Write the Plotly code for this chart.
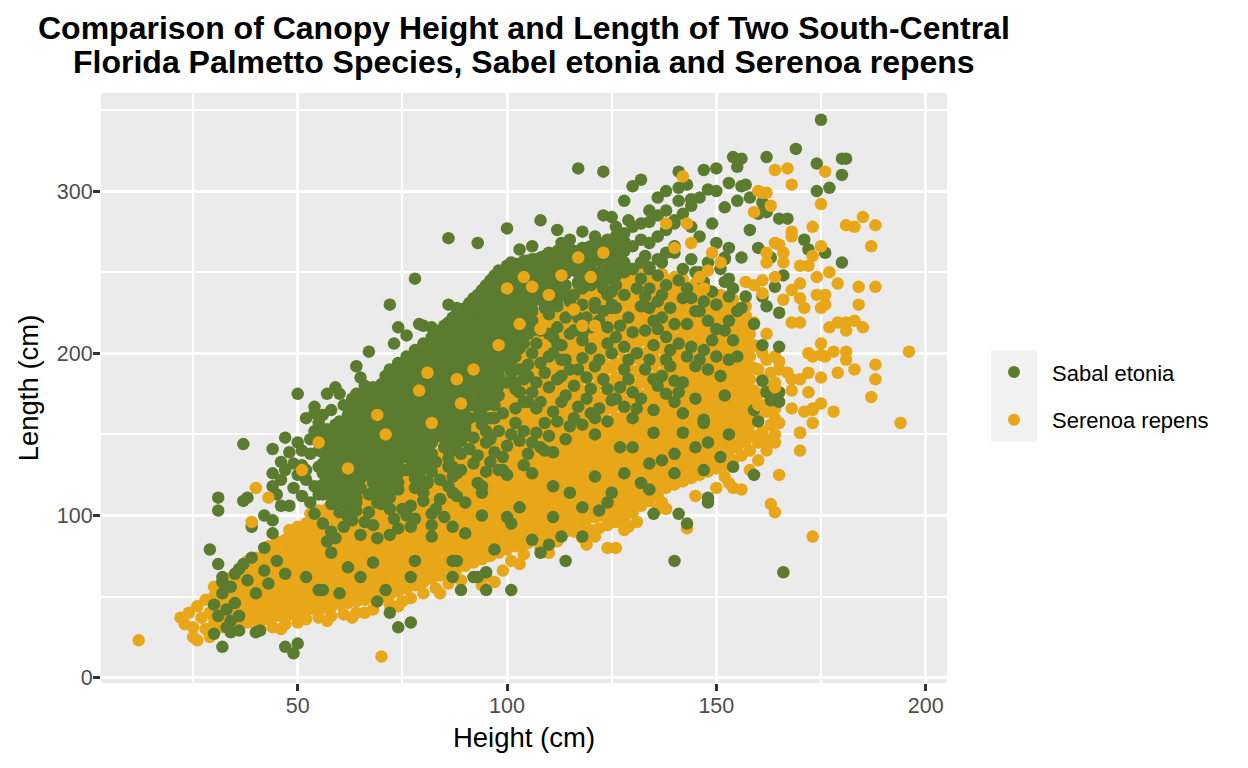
import plotly.graph_objects as go

# %% colours
GREEN = "#5B7B2E"
ORANGE = "#E8A718"

# %% data (height cm, length cm)
# Serenoa repens: lower left tail and lower edge of the cloud
serenoa_edge = [
    (12, 23), (23, 33), (24, 40), (26, 44), (28, 48), (25, 25), (26, 23),
    (29, 25), (27, 37), (29, 40), (30, 33), (22, 37), (25, 31), (28, 30),
    (41, 30), (44, 31), (47, 33), (50, 34), (52, 36), (55, 37), (58, 38),
    (61, 39), (64, 40), (66, 40), (68, 42), (70, 13), (72, 45), (75, 47),
    (77, 49), (80, 52), (83, 55), (86, 58), (89, 60), (92, 62), (95, 63),
    (97, 59), (99, 66), (101, 72), (104, 76), (105, 83), (108, 80),
    (112, 84), (115, 91), (118, 86), (121, 87), (124, 80), (126, 80),
    (128, 91), (131, 96), (134, 109), (137, 108), (143, 92), (138, 104),
    (152, 124), (153, 120), (154, 117), (156, 116), (163, 107), (164, 102),
    (173, 87), (165, 125), (170, 140), (170, 151),
    (46, 30), (57, 35), (63, 37), (74, 44), (84, 52), (94, 57), (103, 70),
    (110, 77), (119, 82), (129, 93), (136, 104), (145, 112), (150, 117),
    (158, 128), (160, 134), (162, 140),
]

# Serenoa repens: main band, one column per height value
serenoa_band = [
    (30, [31, 44, 56]), (31, [36, 50]), (32, [31, 43, 57]), (33, [37, 49, 61]),
    (34, [32, 45, 58]), (35, [38, 51, 64]), (36, [33, 46, 59]),
    (37, [39, 52, 66]), (38, [34, 47, 60, 72]), (39, [40, 53, 67]),
    (40, [35, 48, 61, 74]), (41, [41, 54, 68]), (42, [36, 49, 62, 76]),
    (43, [42, 55, 69, 81]), (44, [37, 50, 63, 77]), (45, [43, 56, 70, 84]),
    (46, [38, 51, 64, 78]), (47, [44, 57, 71, 85]), (48, [39, 52, 65, 79, 91]),
    (49, [45, 58, 72, 86]), (50, [40, 53, 66, 80, 93]), (51, [46, 59, 73, 87]),
    (52, [41, 54, 67, 81, 95]), (53, [47, 60, 74, 88, 101]),
    (54, [42, 55, 68, 82, 96]), (55, [48, 61, 75, 89, 103]),
    (56, [43, 56, 69, 83, 97]), (57, [49, 62, 76, 90, 104]),
    (58, [44, 57, 70, 84, 98, 111]), (59, [50, 63, 77, 91, 105]),
    (60, [45, 58, 71, 85, 99, 113]), (61, [51, 64, 78, 92, 106]),
    (62, [46, 59, 72, 86, 100, 115]), (63, [52, 65, 79, 93, 107]),
    (64, [47, 60, 73, 87, 101, 116]), (65, [53, 66, 80, 94, 108, 120]),
    (66, [48, 61, 74, 88, 102, 117]), (67, [54, 67, 81, 95, 109, 122]),
    (68, [49, 62, 75, 89, 103, 118]), (69, [55, 68, 82, 96, 110, 124]),
    (70, [50, 63, 76, 90, 104, 119]), (71, [56, 69, 83, 97, 111, 125]),
    (72, [51, 64, 77, 91, 105, 120, 131]), (73, [57, 70, 84, 98, 112, 126]),
    (74, [53, 66, 79, 93, 107, 121, 134]), (75, [59, 72, 86, 100, 114, 128]),
    (76, [55, 68, 81, 95, 109, 123, 137]), (77, [61, 74, 88, 102, 116, 130]),
    (78, [57, 70, 83, 97, 111, 125, 139]), (79, [63, 76, 90, 104, 118, 132]),
    (80, [59, 72, 85, 99, 113, 127, 141]), (81, [65, 78, 92, 106, 120, 134]),
    (82, [61, 74, 87, 101, 115, 129, 144]), (83, [67, 80, 94, 108, 122, 136]),
    (84, [63, 76, 89, 103, 117, 131, 146]),
    (85, [69, 82, 96, 110, 124, 138, 151]),
    (86, [65, 78, 91, 105, 119, 133, 148]),
    (87, [71, 84, 98, 112, 126, 140, 154]),
    (88, [67, 80, 93, 107, 121, 135, 150]),
    (89, [73, 86, 100, 114, 128, 142, 156]),
    (90, [69, 82, 95, 109, 123, 137, 152]),
    (91, [75, 88, 102, 116, 130, 144, 158]),
    (92, [71, 84, 97, 111, 125, 139, 154, 166]),
    (93, [77, 90, 104, 118, 132, 146, 160]),
    (94, [73, 86, 99, 113, 127, 141, 156, 169]),
    (95, [79, 92, 106, 120, 134, 148, 162]),
    (96, [75, 88, 101, 115, 129, 143, 158, 172]),
    (97, [81, 94, 108, 122, 136, 150, 164]),
    (98, [77, 90, 103, 117, 131, 145, 160, 175]),
    (99, [83, 96, 110, 124, 138, 152, 166, 180]),
    (100, [79, 92, 105, 119, 133, 147, 162, 177, 192]),
    (101, [85, 98, 112, 126, 140, 154, 168, 181, 196]),
    (102, [81, 94, 107, 121, 135, 149, 164, 179, 194]),
    (103, [87, 100, 114, 128, 142, 156, 170, 184, 200]),
    (104, [83, 96, 109, 123, 137, 151, 166, 181, 195, 206]),
    (105, [89, 102, 116, 130, 144, 158, 172, 187, 201]),
    (106, [85, 98, 111, 125, 139, 153, 168, 183, 198, 212]),
    (107, [91, 104, 118, 132, 146, 160, 174, 190, 205]),
    (108, [87, 100, 113, 127, 141, 155, 170, 185, 197, 210, 222]),
    (109, [93, 106, 120, 134, 148, 162, 176, 192, 206, 218]),
    (110, [88, 101, 115, 129, 143, 157, 172, 187, 200, 213, 226]),
    (111, [94, 107, 121, 135, 149, 163, 178, 194, 207, 220]),
    (112, [89, 102, 116, 130, 144, 158, 173, 189, 204, 217, 230]),
    (113, [95, 108, 122, 136, 150, 164, 180, 196, 210, 224]),
    (114, [90, 103, 117, 131, 145, 159, 175, 191, 207, 220, 234]),
    (115, [96, 109, 123, 137, 151, 165, 181, 198, 213, 227]),
    (116, [90, 104, 118, 132, 146, 160, 176, 193, 210, 223, 237]),
    (117, [97, 110, 124, 138, 152, 167, 183, 200, 216, 230]),
    (118, [91, 105, 119, 133, 147, 161, 177, 195, 212, 226, 239]),
    (119, [98, 111, 125, 139, 153, 168, 185, 202, 219, 233]),
    (120, [91, 106, 120, 134, 148, 163, 179, 197, 214, 228, 241]),
    (121, [99, 112, 126, 140, 155, 170, 187, 204, 221, 236]),
    (122, [92, 107, 121, 135, 149, 164, 181, 199, 216, 230, 243]),
    (123, [100, 113, 127, 141, 156, 172, 189, 206, 223, 238]),
    (124, [94, 108, 122, 136, 150, 166, 183, 201, 218, 232, 245]),
    (125, [101, 115, 129, 143, 158, 174, 191, 208, 225, 240]),
    (126, [96, 110, 124, 138, 152, 168, 185, 203, 220, 234, 247]),
    (127, [103, 117, 131, 145, 160, 176, 193, 210, 227, 242]),
    (128, [98, 112, 126, 140, 154, 170, 187, 205, 222, 236, 249]),
    (129, [105, 119, 133, 147, 162, 178, 195, 212, 229, 244]),
    (130, [102, 115, 128, 142, 156, 172, 189, 207, 224, 238, 250]),
    (131, [108, 121, 135, 149, 164, 180, 197, 214, 231, 245]),
    (132, [106, 118, 131, 145, 159, 174, 191, 209, 226, 240, 251]),
    (133, [112, 124, 138, 152, 166, 182, 199, 216, 233, 246]),
    (134, [109, 121, 134, 148, 162, 177, 193, 211, 228, 242, 251]),
    (135, [115, 127, 141, 155, 169, 184, 201, 218, 235, 247]),
    (136, [113, 125, 137, 151, 165, 179, 195, 213, 230, 244]),
    (137, [119, 131, 144, 158, 172, 187, 203, 220, 236, 249]),
    (138, [117, 129, 140, 154, 168, 182, 198, 215, 231, 245]),
    (139, [122, 134, 147, 161, 175, 190, 206, 222, 238]),
    (140, [119, 131, 143, 157, 171, 185, 200, 217, 233, 247]),
    (141, [124, 136, 150, 164, 178, 193, 209, 225, 240]),
    (142, [121, 133, 146, 160, 174, 188, 203, 219, 234, 246]),
    (143, [126, 139, 153, 167, 181, 196, 212, 227, 241]),
    (144, [123, 136, 149, 163, 177, 191, 206, 221, 235]),
    (145, [128, 142, 156, 170, 184, 199, 215, 229, 243]),
    (146, [125, 139, 152, 166, 180, 194, 209, 224, 238]),
    (147, [131, 145, 159, 173, 187, 202, 218, 232]),
    (148, [127, 142, 155, 169, 183, 197, 212, 226, 239]),
    (149, [134, 148, 162, 176, 190, 205, 220, 233]),
    (150, [129, 145, 158, 172, 186, 200, 214, 228]),
    (151, [137, 151, 165, 179, 193, 208, 222, 236]),
    (152, [131, 147, 161, 175, 189, 203, 217, 230]),
    (153, [140, 154, 168, 182, 196, 211, 225]),
    (154, [134, 150, 164, 178, 192, 206, 220, 233]),
    (155, [143, 157, 171, 185, 199, 213, 226]),
    (156, [137, 153, 167, 181, 195, 209, 222]),
    (157, [146, 160, 174, 188, 202, 216, 229]),
    (158, [140, 156, 170, 184, 198, 212]),
    (159, [149, 163, 177, 191, 205, 219]),
    (160, [145, 160, 175, 190, 204]),
    (161, [152, 168, 184, 200]),
    (162, [147, 164, 180, 196, 212]),
    (163, [156, 172, 188]),
    (164, [150, 166, 182, 198]),
]

# Serenoa repens: more points packed between those of the main band
serenoa_band_fill = [
    (30, [37, 50]), (31, [43]), (32, [37, 50]), (33, [43, 55]), (34, [38, 52]),
    (35, [44, 57]), (36, [39, 53]), (37, [45, 59]), (38, [40, 54, 66]),
    (39, [46, 60]), (40, [41, 55, 68]), (41, [47, 61]), (42, [42, 56, 69]),
    (43, [48, 62, 75]), (44, [43, 57, 70]), (45, [49, 63, 77]),
    (46, [44, 58, 71]), (47, [50, 64, 78]), (48, [45, 59, 72, 85]),
    (49, [51, 65, 79]), (50, [46, 60, 73, 87]), (51, [52, 66, 80]),
    (52, [47, 61, 74, 88]), (53, [53, 67, 81, 94]), (54, [48, 62, 75, 89]),
    (55, [54, 68, 82, 96]), (56, [49, 63, 76, 90]), (57, [55, 69, 83, 97]),
    (58, [50, 64, 77, 91, 105]), (59, [56, 70, 84, 98]),
    (60, [51, 65, 78, 92, 106]), (61, [57, 71, 85, 99]),
    (62, [52, 66, 79, 93, 107]), (63, [58, 72, 86, 100]),
    (64, [53, 67, 80, 94, 108]), (65, [59, 73, 87, 101, 114]),
    (66, [54, 68, 81, 95, 109]), (67, [60, 74, 88, 102, 115]),
    (68, [55, 69, 82, 96, 110]), (69, [61, 75, 89, 103, 117]),
    (70, [56, 70, 83, 97, 111]), (71, [62, 76, 90, 104, 118]),
    (72, [57, 71, 84, 98, 112, 125]), (73, [63, 77, 91, 105, 119]),
    (74, [59, 73, 86, 100, 114, 127]), (75, [65, 79, 93, 107, 121]),
    (76, [61, 75, 88, 102, 116, 130]), (77, [67, 81, 95, 109, 123]),
    (78, [63, 77, 90, 104, 118, 132]), (79, [69, 83, 97, 111, 125]),
    (80, [65, 79, 92, 106, 120, 134]), (81, [71, 85, 99, 113, 127]),
    (82, [67, 81, 94, 108, 122, 136]), (83, [73, 87, 101, 115, 129]),
    (84, [69, 83, 96, 110, 124, 138]), (85, [75, 89, 103, 117, 131, 144]),
    (86, [71, 85, 98, 112, 126, 140]), (87, [77, 91, 105, 119, 133, 147]),
    (88, [73, 87, 100, 114, 128, 142]), (89, [79, 93, 107, 121, 135, 149]),
    (90, [75, 89, 102, 116, 130, 144]), (91, [81, 95, 109, 123, 137, 151]),
    (92, [77, 91, 104, 118, 132, 146, 160]), (93, [83, 97, 111, 125, 139, 153]),
    (94, [79, 93, 106, 120, 134, 148, 162]), (95, [85, 99, 113, 127, 141, 155]),
    (96, [81, 95, 108, 122, 136, 150, 165]), (97, [87, 101, 115, 129, 143, 157]),
    (98, [83, 97, 110, 124, 138, 152, 167]),
    (99, [89, 103, 117, 131, 145, 159, 173]),
    (100, [86, 99, 112, 126, 140, 155, 170, 185]),
    (101, [91, 105, 119, 133, 147, 161, 175, 189]),
    (102, [88, 101, 114, 128, 142, 157, 172, 187]),
    (103, [93, 107, 121, 135, 149, 163, 177, 192]),
    (104, [90, 103, 116, 130, 144, 159, 174, 188, 201]),
    (105, [95, 109, 123, 137, 151, 165, 180, 194]),
    (106, [92, 105, 118, 132, 146, 161, 176, 191, 205]),
    (107, [97, 111, 125, 139, 153, 167, 182, 198]),
    (108, [94, 107, 120, 134, 148, 163, 178, 191, 204, 216]),
    (109, [99, 113, 127, 141, 155, 169, 184, 199, 212]),
    (110, [95, 108, 122, 136, 150, 165, 180, 194, 207, 220]),
    (111, [100, 114, 128, 142, 156, 171, 186, 201, 214]),
    (112, [96, 109, 123, 137, 151, 166, 181, 197, 211, 224]),
    (113, [101, 115, 129, 143, 157, 172, 188, 203, 217]),
    (114, [97, 110, 124, 138, 152, 167, 183, 199, 214, 227]),
    (115, [102, 116, 130, 144, 158, 173, 190, 206, 220]),
    (116, [97, 111, 125, 139, 153, 168, 185, 202, 217, 230]),
    (117, [103, 117, 131, 145, 160, 175, 192, 208, 223]),
    (118, [98, 112, 126, 140, 154, 169, 186, 204, 219, 233]),
    (119, [104, 118, 132, 146, 161, 177, 194, 211, 226]),
    (120, [99, 113, 127, 141, 156, 171, 188, 206, 221, 235]),
    (121, [105, 119, 133, 148, 163, 179, 196, 213, 229]),
    (122, [100, 114, 128, 142, 157, 173, 190, 208, 223, 237]),
    (123, [106, 120, 134, 149, 164, 181, 198, 215, 231]),
    (124, [101, 115, 129, 143, 158, 175, 192, 210, 225, 239]),
    (125, [108, 122, 136, 151, 166, 183, 200, 217, 233]),
    (126, [103, 117, 131, 145, 160, 177, 194, 212, 227, 241]),
    (127, [110, 124, 138, 153, 168, 185, 202, 219, 235]),
    (128, [105, 119, 133, 147, 162, 179, 196, 214, 229, 243]),
    (129, [112, 126, 140, 155, 170, 187, 204, 221, 237]),
    (130, [109, 122, 135, 149, 164, 181, 198, 216, 231, 244]),
    (131, [115, 128, 142, 157, 172, 189, 206, 223, 238]),
    (132, [112, 125, 138, 152, 167, 183, 200, 218, 233, 246]),
    (133, [118, 131, 145, 159, 174, 191, 208, 225, 240]),
    (134, [115, 128, 141, 155, 170, 185, 202, 220, 235, 247]),
    (135, [121, 134, 148, 162, 177, 193, 210, 227, 241]),
    (136, [119, 131, 144, 158, 172, 187, 204, 222, 237]),
    (137, [125, 138, 151, 165, 180, 195, 212, 228, 243]),
    (138, [123, 135, 147, 161, 175, 190, 207, 223, 238]),
    (139, [128, 141, 154, 168, 183, 198, 214, 230]),
    (140, [125, 137, 150, 164, 178, 193, 209, 225, 240]),
    (141, [130, 143, 157, 171, 186, 201, 217, 233]),
    (142, [127, 140, 153, 167, 181, 196, 211, 227, 240]),
    (143, [133, 146, 160, 174, 189, 204, 220, 234]),
    (144, [130, 143, 156, 170, 184, 199, 214, 228]),
    (145, [135, 149, 163, 177, 192, 207, 222, 236]),
    (146, [132, 146, 159, 173, 187, 202, 217, 231]),
    (147, [138, 152, 166, 180, 195, 210, 225]),
    (148, [135, 149, 162, 176, 190, 205, 219, 233]),
    (149, [141, 155, 169, 183, 198, 213, 227]),
    (150, [137, 152, 165, 179, 193, 207, 221]),
    (151, [144, 158, 172, 186, 201, 215, 229]),
    (152, [139, 154, 168, 182, 196, 210, 224]),
    (153, [147, 161, 175, 189, 204, 218]),
    (154, [142, 157, 171, 185, 199, 213, 227]),
    (155, [150, 164, 178, 192, 206, 220]),
    (156, [145, 160, 174, 188, 202, 216]),
    (157, [153, 167, 181, 195, 209, 223]),
]

# Serenoa repens points that sit on top of the Sabal cloud, and the right fringe
serenoa_over = [
    (104, 247), (100, 240), (106, 241), (103, 218), (108, 215), (117, 259),
    (88, 184), (89, 169), (79, 177), (82, 157), (71, 150), (69, 162),
    (120, 247), (116, 227), (118, 217), (121, 217), (142, 309), (138, 280),
    (143, 280), (144, 268), (123, 262), (140, 265), (149, 262), (151, 256),
    (146, 247), (148, 251), (147, 240), (157, 244), (159, 242), (161, 237),
    (161, 245), (159, 287), (163, 291), (166, 262), (164, 268), (162, 256),
    (81, 188), (40, 117), (39, 96), (43, 111), (51, 128), (55, 145),
    (62, 129), (98, 205), (92, 190), (110, 236), (113, 248),
    (167, 314), (168, 304), (160, 300), (161, 299), (173, 278), (175, 292),
    (181, 279), (183, 278), (185, 284), (187, 266), (184, 241), (188, 241),
    (168, 272), (165, 267), (162, 262), (166, 256), (164, 247), (170, 254),
    (172, 254), (174, 247), (177, 250), (176, 236), (174, 236), (170, 234),
    (171, 228), (168, 239), (170, 219), (168, 219), (177, 216), (179, 219),
    (181, 219), (181, 214), (185, 216), (175, 206), (173, 198), (176, 198),
    (181, 201), (181, 196), (183, 190), (188, 193), (188, 184), (187, 173),
    (172, 188), (175, 185), (168, 184), (165, 190), (164, 179), (172, 176),
    (175, 169), (173, 166), (178, 164), (168, 166), (170, 151), (165, 157),
    (164, 160), (160, 168), (196, 201), (194, 157), (173, 157), (173, 165),
    (164, 145), (168, 177), (175, 266), (176, 230), (165, 195), (167, 188),
    (184, 230), (183, 220), (179, 188), (178, 201), (175, 228), (179, 243),
    (175, 199), (172, 200), (171, 164), (170, 184), (170, 243), (173, 260),
    (176, 312), (166, 233), (168, 275), (164, 313), (162, 299), (188, 279),
]

# Sabal etonia: dense upper core, one column per height value
sabal_core = [
    (56, [113, 126, 139, 150]), (57, [119, 132, 145, 153]),
    (58, [112, 125, 138, 151]), (59, [118, 131, 144, 156]),
    (60, [109, 122, 135, 148, 158]), (61, [115, 128, 141, 154]),
    (62, [110, 123, 136, 149, 162]), (63, [116, 129, 142, 155, 165]),
    (64, [111, 124, 137, 150, 163]), (65, [117, 130, 143, 156, 169]),
    (66, [125, 138, 151, 164, 174]), (67, [131, 144, 157, 170]),
    (68, [114, 127, 140, 153, 166, 179]), (69, [120, 133, 146, 159, 172]),
    (70, [116, 129, 142, 155, 168, 181]), (71, [122, 135, 148, 161, 174, 186]),
    (72, [118, 131, 144, 157, 170, 183, 190]),
    (73, [124, 137, 150, 163, 176, 188]),
    (74, [120, 133, 146, 159, 172, 185, 194]),
    (75, [139, 152, 165, 178, 191]),
    (76, [136, 149, 162, 175, 188, 198]),
    (77, [129, 142, 155, 168, 181, 194]),
    (78, [126, 139, 152, 165, 178, 191, 202]),
    (79, [132, 145, 158, 171, 184, 197]),
    (80, [129, 142, 155, 168, 181, 194, 206]),
    (81, [135, 148, 161, 174, 187, 200]),
    (82, [132, 145, 158, 171, 184, 197, 210]),
    (83, [151, 164, 177, 190, 203]),
    (84, [149, 162, 175, 188, 201, 214]),
    (85, [142, 155, 168, 181, 194, 207, 217]),
    (86, [140, 153, 166, 179, 192, 205, 219]),
    (87, [146, 159, 172, 185, 198, 211, 222]),
    (88, [144, 157, 170, 183, 196, 209, 224]),
    (89, [150, 163, 176, 189, 202, 215, 226]),
    (90, [149, 162, 175, 188, 201, 214, 228]),
    (91, [168, 181, 194, 207, 220, 231]),
    (92, [168, 181, 194, 207, 220, 234]),
    (93, [161, 174, 187, 200, 213, 226, 236]),
    (94, [162, 175, 188, 201, 214, 227, 239]),
    (95, [168, 181, 194, 207, 220, 233, 242]),
    (96, [170, 183, 196, 209, 222, 235, 245]),
    (97, [177, 190, 203, 216, 229, 241, 248]),
    (98, [180, 193, 206, 219, 232, 245, 251]),
    (99, [199, 212, 225, 238, 250]),
    (100, [202, 215, 228, 241, 254]),
    (101, [195, 208, 221, 234, 247, 256]),
    (102, [198, 211, 224, 237, 250]), (103, [203, 216, 229, 242, 255]),
    (104, [206, 219, 232, 245, 257]), (105, [212, 225, 238, 251]),
    (106, [214, 227, 240, 253]), (107, [233, 246, 258]),
    (108, [235, 248, 259]), (109, [228, 241, 254]),
    (110, [231, 244, 257]), (111, [236, 249, 261]), (112, [233, 246, 259]),
    (113, [239, 252, 262]), (114, [236, 249, 261]), (115, [255]),
    (116, [251, 263]), (117, [244, 257]), (118, [240, 253, 265]),
    (119, [246, 259]), (120, [242, 255, 266]), (121, [248, 261]),
    (122, [244, 257, 268]), (123, [250, 263]), (124, [246, 259, 270]),
    (125, [252, 265]), (126, [248, 261, 272]), (127, [254, 267]),
    (128, [250, 263, 274]), (130, [252, 266, 278]), (132, [256, 270]),
    (134, [253, 268, 281]), (136, [258, 272]), (138, [262, 276, 288]),
    (140, [266, 280]),
]

# Sabal etonia: more points packed between those of the core
sabal_core_fill = [
    (56, [119, 132, 145]), (57, [125, 138]), (58, [118, 131, 144]),
    (59, [124, 137, 150]), (60, [115, 128, 141, 153]), (61, [121, 134, 147]),
    (62, [116, 129, 142, 155]), (63, [122, 135, 148, 160]),
    (64, [117, 130, 143, 156]), (65, [123, 136, 149, 162]),
    (66, [131, 144, 157, 169]), (67, [137, 150, 163]),
    (68, [120, 133, 146, 159, 172]), (69, [126, 139, 152, 165]),
    (70, [122, 135, 148, 161, 174]), (71, [128, 141, 154, 167, 180]),
    (72, [124, 137, 150, 163, 176]), (73, [130, 143, 156, 169, 182]),
    (74, [126, 139, 152, 165, 178, 190]), (75, [145, 158, 171, 184]),
    (76, [142, 155, 168, 181, 193]), (77, [135, 148, 161, 174, 187]),
    (78, [132, 145, 158, 171, 184, 196]), (79, [138, 151, 164, 177, 190]),
    (80, [135, 148, 161, 174, 187, 200]), (81, [141, 154, 167, 180, 193]),
    (82, [138, 151, 164, 177, 190, 203]), (83, [157, 170, 183, 196]),
    (84, [155, 168, 181, 194, 207]),
    (85, [148, 161, 174, 187, 200, 212]),
    (86, [146, 159, 172, 185, 198, 212]),
    (87, [152, 165, 178, 191, 204, 216]),
    (88, [150, 163, 176, 189, 202, 216]),
    (89, [156, 169, 182, 195, 208, 220]),
    (90, [155, 168, 181, 194, 207, 221]),
    (91, [174, 187, 200, 213, 225]),
    (92, [174, 187, 200, 213, 227]),
    (93, [167, 180, 193, 206, 219, 231]),
    (94, [168, 181, 194, 207, 220, 233]),
    (95, [174, 187, 200, 213, 226, 238]),
    (96, [176, 189, 202, 215, 228, 240]),
    (97, [183, 196, 209, 222, 235, 245]),
    (98, [186, 199, 212, 225, 238, 248]),
    (99, [205, 218, 231, 244]), (100, [208, 221, 234, 247]),
    (101, [201, 214, 227, 240, 252]), (102, [204, 217, 230, 243, 255]),
    (103, [209, 222, 235, 248]), (104, [212, 225, 238, 251]),
    (105, [218, 231, 244, 257]), (106, [220, 233, 246, 258]),
    (107, [239, 252]), (108, [241, 254]), (109, [234, 247, 260]),
    (110, [237, 250, 262]), (111, [242, 255]), (112, [239, 252, 263]),
    (113, [245, 257]), (114, [242, 255, 265]), (115, [261]),
    (116, [257]), (117, [250, 263]), (118, [246, 259]), (119, [252, 265]),
    (120, [248, 261]), (122, [250, 263]), (124, [252, 265]), (126, [254, 267]),
    (128, [256, 269]),
]

# Sabal etonia: small clumps mixed into the Serenoa band, left to right
sabal_clumps = [
    (57, 84), (58, 90), (56, 95), (59, 86), (62, 99), (63, 104), (61, 93),
    (64, 108), (60, 102), (58, 107), (65, 88),
    (66, 96), (67, 102), (68, 94), (69, 108), (70, 114), (72, 111),
    (71, 118), (73, 98), (74, 92), (72, 88), (75, 104), (67, 113), (69, 86),
    (74, 116),
    (76, 100), (77, 106), (78, 98), (79, 125), (80, 131), (81, 120),
    (82, 127), (78, 117), (83, 104), (84, 110), (85, 99), (80, 109),
    (76, 128), (83, 133), (84, 122), (77, 93), (82, 94),
    (86, 118), (87, 124), (88, 112), (86, 130), (89, 146), (90, 152),
    (91, 141), (92, 148), (88, 155), (93, 120), (94, 114), (95, 127),
    (92, 132), (90, 108), (94, 158), (87, 140), (91, 160), (93, 137),
    (89, 128), (85, 150), (95, 145),
    (96, 133), (97, 139), (98, 128), (99, 136), (96, 160), (97, 168),
    (98, 174), (99, 163), (100, 182), (101, 188), (102, 178), (103, 190),
    (101, 150), (102, 157), (103, 146), (104, 152), (100, 125), (104, 131),
    (105, 170), (103, 176), (97, 185), (99, 192), (105, 138), (96, 148),
    (100, 143), (104, 184), (98, 152), (102, 166), (105, 193),
    (106, 145), (107, 151), (108, 142), (109, 157), (110, 149), (106, 176),
    (107, 182), (108, 170), (109, 188), (110, 179), (111, 210), (112, 216),
    (113, 205), (114, 222), (112, 229), (110, 224), (108, 214), (106, 200),
    (107, 206), (111, 164), (112, 158), (113, 170), (114, 147), (115, 155),
    (115, 190), (114, 196), (113, 186), (109, 232), (115, 232), (111, 139),
    (106, 226), (108, 194), (110, 198), (112, 184), (114, 174), (107, 166),
    (115, 212), (109, 140),
    (116, 160), (117, 167), (118, 156), (119, 172), (120, 163), (117, 190),
    (118, 197), (119, 185), (120, 203), (121, 192), (122, 220), (123, 226),
    (121, 231), (124, 216), (125, 238), (123, 240), (116, 214), (117, 222),
    (118, 208), (124, 178), (125, 171), (123, 184), (122, 166), (124, 158),
    (121, 150), (116, 236), (119, 244), (118, 230), (125, 200), (124, 206),
    (122, 196), (120, 178), (116, 180), (125, 228), (119, 216), (121, 160),
    (117, 243),
    (126, 172), (127, 179), (128, 167), (129, 184), (130, 176), (126, 210),
    (127, 217), (128, 204), (129, 222), (130, 213), (131, 240), (132, 246),
    (133, 235), (134, 252), (132, 229), (133, 190), (134, 196), (135, 184),
    (131, 200), (126, 242), (127, 250), (128, 236), (135, 220), (134, 228),
    (133, 214), (130, 160), (131, 166), (132, 172), (135, 165), (128, 190),
    (129, 196), (126, 228), (134, 240), (130, 252), (133, 260), (127, 258),
    (135, 205),
    (136, 180), (137, 186), (138, 175), (139, 192), (140, 183), (136, 215),
    (137, 222), (138, 210), (139, 228), (140, 218), (141, 245), (142, 252),
    (143, 240), (144, 258), (142, 234), (143, 198), (144, 204), (145, 192),
    (141, 206), (136, 248), (137, 256), (138, 242), (145, 226), (144, 234),
    (143, 218), (140, 170), (141, 176), (142, 182), (145, 172), (138, 196),
    (139, 202), (136, 232), (145, 250), (140, 262), (137, 236),
    (146, 196), (147, 202), (148, 190), (149, 208), (150, 198), (146, 226),
    (147, 232), (148, 220), (149, 238), (150, 230), (151, 252), (152, 258),
    (153, 246), (154, 240), (152, 214), (153, 220), (154, 208), (155, 226),
    (151, 186), (146, 250), (147, 244), (155, 198), (150, 215), (148, 256),
    (153, 196),
    # bumps along the lower edge of the dense core
    (62, 101), (63, 97), (64, 103), (61, 105),
    (70, 107), (71, 111), (72, 104), (69, 112),
    (79, 118), (80, 114), (81, 121), (78, 123),
    (87, 130), (88, 126), (86, 135), (89, 138),
    (95, 152), (96, 147), (94, 156), (97, 160),
    (103, 176), (104, 170), (102, 182), (105, 186),
    (111, 200), (112, 206), (110, 212), (113, 196),
    (119, 222), (120, 216), (121, 228), (118, 212),
    (124, 236), (125, 230), (123, 244),
]

# Sabal etonia: scattered points and outliers
sabal_scatter = [
    (29, 79), (31, 70), (31, 111), (31, 103), (37, 109), (38, 111), (37, 144),
    (44, 141), (48, 139), (46, 133), (44, 126), (46, 122), (32, 59), (32, 52),
    (32, 19), (34, 28), (36, 29), (40, 28), (41, 29), (47, 19), (50, 21),
    (49, 15), (55, 54), (60, 52), (69, 47), (72, 40), (74, 31), (77, 34),
    (68, 71), (35, 64), (37, 70), (39, 74), (42, 80), (44, 89), (39, 93),
    (30, 27), (30, 45), (31, 38), (33, 42), (34, 35), (33, 31), (36, 38),
    (35, 46), (32, 62), (34, 56), (36, 67), (38, 60), (40, 52), (42, 66),
    (43, 58), (45, 72), (47, 64), (42, 100), (44, 97), (46, 106), (45, 113),
    (44, 118), (47, 128), (49, 117), (51, 131), (50, 145), (52, 122),
    (53, 138), (54, 152), (55, 113), (55, 130), (47, 148), (52, 160),
    (50, 175), (54, 167), (54, 163), (57, 153), (57, 175), (59, 179),
    (60, 175), (58, 148), (64, 192), (65, 185), (67, 201), (73, 206),
    (74, 216), (76, 211), (79, 218), (80, 217), (82, 216), (72, 230),
    (78, 246), (86, 230), (88, 228), (86, 271), (93, 268), (100, 277),
    (108, 282), (112, 276), (64, 175), (67, 177),
    (53, 108), (54, 118), (52, 128), (55, 140), (53, 147), (51, 112),
    (50, 125), (49, 132), (48, 106), (54, 101), (51, 140), (55, 157),
    (56, 162), (58, 165), (61, 168), (63, 172), (66, 180),
    (56, 54), (52, 62), (58, 77), (62, 68), (65, 62), (71, 54), (77, 62),
    (78, 72), (82, 87), (87, 72), (89, 54), (95, 54), (92, 62), (95, 65),
    (97, 79), (101, 54), (101, 95), (87, 62), (93, 62), (88, 72), (90, 89),
    (87, 93), (94, 100), (108, 77), (110, 82), (114, 72), (113, 87),
    (118, 87), (122, 103), (124, 108), (121, 124), (127, 142), (130, 142),
    (132, 120), (134, 116), (140, 126), (135, 101), (141, 101), (143, 95),
    (147, 128), (148, 111), (148, 108), (159, 125), (154, 130), (153, 150),
    (160, 158), (159, 165), (152, 174), (147, 159), (148, 145), (142, 151),
    (151, 136), (106, 85), (100, 99), (103, 105), (111, 99), (118, 105),
    (115, 114), (111, 118), (106, 126), (99, 128), (94, 118), (84, 110),
    (82, 101), (87, 114), (125, 114), (128, 126), (134, 132), (137, 134),
    (140, 138), (135, 151), (145, 142), (142, 163), (147, 157), (140, 72),
    (166, 65), (165, 170), (163, 171), (161, 183), (162, 176), (165, 176),
    (165, 283), (167, 283), (171, 270), (172, 264), (176, 262), (180, 256),
    (158, 276), (160, 265), (163, 259), (166, 248), (164, 241), (165, 225),
    (161, 205), (165, 204), (156, 228), (153, 265), (156, 259), (152, 259),
    (152, 244), (153, 235), (157, 235), (161, 235), (162, 229), (159, 218),
    (175, 344), (169, 326), (162, 321), (154, 321), (156, 320), (155, 315),
    (174, 317), (180, 320), (181, 320), (180, 310), (174, 300), (177, 302),
    (150, 314), (147, 313), (148, 301), (153, 305), (156, 303), (157, 304),
    (155, 294), (158, 296), (161, 293), (160, 286), (162, 287), (117, 314),
    (123, 312), (130, 303), (132, 307), (141, 312), (141, 302), (143, 304),
    (141, 294), (144, 295), (144, 291), (142, 286), (134, 288), (123, 285),
    (125, 284), (128, 294), (136, 296), (138, 300), (146, 296), (150, 300),
    (152, 290), (115, 270), (118, 275), (121, 272), (126, 278), (129, 282),
    (132, 280), (136, 285), (140, 282), (144, 278), (146, 272), (149, 280),
    (150, 268), (113, 268), (106, 266), (103, 264),
]


def from_columns(cols):
    xs, ys = [], []
    for x, col in cols:
        xs += [x] * len(col)
        ys += col
    return xs, ys


def from_pairs(pts):
    return [p[0] for p in pts], [p[1] for p in pts]


def gather(parts):
    xs, ys = [], []
    for px, py in parts:
        xs += px
        ys += py
    return xs, ys


ser_x, ser_y = gather([
    from_pairs(serenoa_edge),
    from_columns(serenoa_band),
    from_columns(serenoa_band_fill),
])

sab_x, sab_y = gather([
    from_pairs(sabal_clumps),
    from_columns(sabal_core),
    from_columns(sabal_core_fill),
    from_pairs(sabal_scatter),
])

over_x, over_y = from_pairs(serenoa_over)

# %%
fig = go.Figure()

marker_size = 12.5

fig.add_trace(
    go.Scatter(
        x=ser_x,
        y=ser_y,
        mode="markers",
        name="Serenoa repens",
        legendgroup="serenoa",
        legendrank=2,
        marker={"color": ORANGE, "size": marker_size, "line": {"width": 0}},
        hoverinfo="skip",
    )
)

fig.add_trace(
    go.Scatter(
        x=sab_x,
        y=sab_y,
        mode="markers",
        name="Sabal etonia",
        legendgroup="sabal",
        legendrank=1,
        marker={"color": GREEN, "size": marker_size, "line": {"width": 0}},
        hoverinfo="skip",
    )
)

fig.add_trace(
    go.Scatter(
        x=over_x,
        y=over_y,
        mode="markers",
        name="Serenoa repens",
        legendgroup="serenoa",
        showlegend=False,
        marker={"color": ORANGE, "size": marker_size, "line": {"width": 0}},
        hoverinfo="skip",
    )
)

axis_common = dict(
    showgrid=True,
    gridcolor="white",
    gridwidth=3,
    zeroline=False,
    showline=False,
    ticks="outside",
    ticklen=7,
    tickwidth=2.5,
    tickcolor="#333333",
    tickfont={"size": 21.5, "color": "#4D4D4D"},
)

fig.update_xaxes(
    range=[3.0, 205.1],
    tick0=0,
    dtick=50,
    minor={"dtick": 25, "tick0": 0, "showgrid": True, "gridcolor": "white", "gridwidth": 1.5},
    title={"text": "Height (cm)", "font": {"size": 27.5, "color": "black"}, "standoff": 10},
    ticklabelstandoff=-4,
    **axis_common,
)

fig.update_yaxes(
    range=[-3.3, 360.5],
    tick0=0,
    dtick=100,
    minor={"dtick": 50, "tick0": 0, "showgrid": True, "gridcolor": "white", "gridwidth": 1.5},
    title={"text": "Length (cm)", "font": {"size": 27.5, "color": "black"}, "standoff": 10},
    ticklabelstandoff=-4,
    **axis_common,
)

# the page adds an 8 px body margin, so the layout is laid out 8 px up and left
fig.update_layout(
    width=1248,
    height=768,
    margin={"l": 93, "r": 309, "t": 85, "b": 93},
    paper_bgcolor="white",
    plot_bgcolor="#EBEBEB",
    font={"family": "Liberation Sans, Arial, sans-serif", "color": "black"},
    annotations=[
        dict(
            text="<b>Comparison of Canopy Height and Length of Two South-Central</b>",
            xref="paper", yref="paper", x=0.5, y=1.110,
            xanchor="center", yanchor="middle", showarrow=False,
            font={"size": 32, "color": "black"},
        ),
        dict(
            text="<b>Florida Palmetto Species, Sabel etonia and Serenoa repens</b>",
            xref="paper", yref="paper", x=0.5, y=1.0525,
            xanchor="center", yanchor="middle", showarrow=False,
            font={"size": 32, "color": "black"},
        ),
    ],
    legend={
        "x": 1.0343,
        "xanchor": "left",
        "y": 0.486,
        "yanchor": "middle",
        "bgcolor": "rgba(0,0,0,0)",
        "font": {"size": 22, "color": "black"},
        "traceorder": "grouped",
        "tracegroupgap": 16,
        "itemsizing": "constant",
        "itemwidth": 66,
    },
    shapes=[
        dict(
            type="rect",
            xref="paper",
            yref="paper",
            x0=1.052,
            x1=1.1064,
            y0=0.4085,
            y1=0.5644,
            fillcolor="#F2F2F2",
            line={"width": 0},
            layer="below",
        )
    ],
)

fig.write_html("out.html")
